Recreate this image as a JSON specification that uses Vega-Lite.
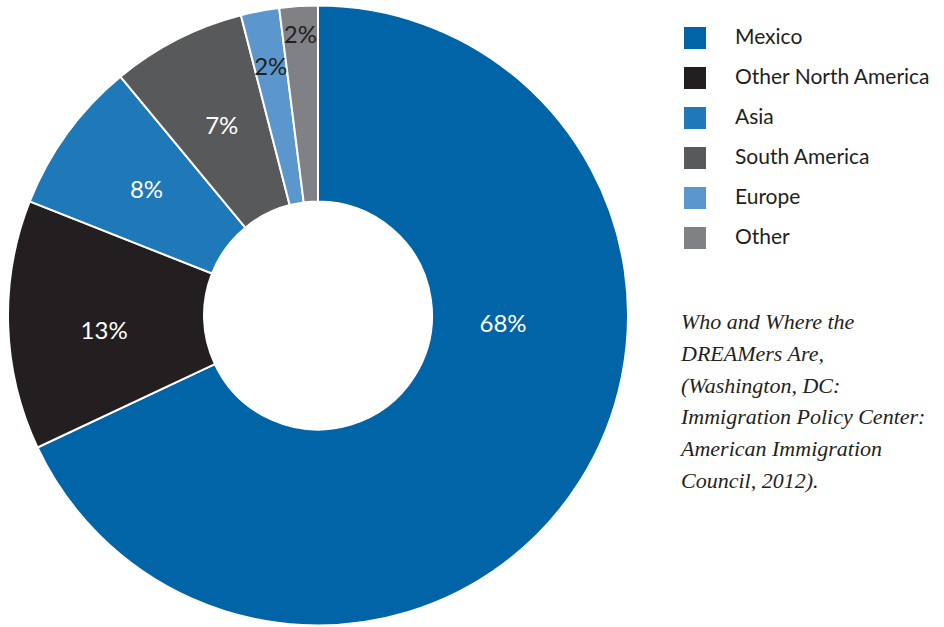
{
  "$schema": "https://vega.github.io/schema/vega-lite/v6.json",
  "width": 636,
  "height": 631,
  "autosize": {"type": "none"},
  "padding": {"left": 0, "top": 0, "right": 308, "bottom": -4},
  "background": "white",
  "config": {"view": {"stroke": null}},
  "title": {
    "text": ["Who and Where the", "DREAMers Are,", "(Washington, DC:", "Immigration Policy Center:", "American Immigration", "Council, 2012)."],
    "orient": "top",
    "anchor": "start",
    "frame": "group",
    "align": "left",
    "baseline": "top",
    "dx": 681,
    "dy": 493,
    "offset": 0,
    "font": "Liberation Serif",
    "fontStyle": "italic",
    "fontWeight": "normal",
    "fontSize": 22,
    "lineHeight": 31.8,
    "color": "#231f20"
  },
  "data": {
    "values": [
      {"region": "Mexico", "pct": 68, "label": "68%", "order": 1},
      {"region": "Other North America", "pct": 13, "label": "13%", "order": 2},
      {"region": "Asia", "pct": 8, "label": "8%", "order": 3},
      {"region": "South America", "pct": 7, "label": "7%", "order": 4},
      {"region": "Europe", "pct": 2, "label": "2%", "order": 5},
      {"region": "Other", "pct": 2, "label": "2%", "order": 6}
    ]
  },
  "encoding": {
    "theta": {"field": "pct", "type": "quantitative", "stack": true},
    "order": {"field": "order", "type": "quantitative"}
  },
  "layer": [
    {
      "mark": {"type": "arc", "outerRadius": 310, "innerRadius": 114, "stroke": "white", "strokeWidth": 2},
      "encoding": {
        "color": {
          "field": "region",
          "type": "nominal",
          "scale": {
            "domain": ["Mexico", "Other North America", "Asia", "South America", "Europe", "Other"],
            "range": ["#0064a7", "#231f20", "#1f78b8", "#58595b", "#5b97cc", "#808184"]
          },
          "legend": {
            "title": null,
            "orient": "none",
            "legendX": 684,
            "legendY": 27,
            "symbolType": "square",
            "symbolSize": 484,
            "symbolStrokeWidth": 0,
            "symbolOpacity": 1,
            "labelFont": "Lato",
            "labelFontSize": 21,
            "labelColor": "#231f20",
            "labelOffset": 29,
            "labelLimit": 300,
            "rowPadding": 18,
            "padding": 0
          }
        }
      }
    },
    {
      "mark": {"type": "text", "radius": 186, "dx": 28, "dy": -90, "font": "Lato", "fontSize": 24, "color": "white"},
      "encoding": {"text": {"condition": {"test": "datum.region === 'Mexico'", "field": "label"}, "value": ""}}
    },
    {
      "mark": {"type": "text", "radius": 214, "dy": 10, "font": "Lato", "fontSize": 24, "color": "white"},
      "encoding": {"text": {"condition": {"test": "datum.region === 'Other North America'", "field": "label"}, "value": ""}}
    },
    {
      "mark": {"type": "text", "radius": 212, "font": "Lato", "fontSize": 24, "color": "white"},
      "encoding": {"text": {"condition": {"test": "datum.order >= 3 && datum.order <= 4", "field": "label"}, "value": ""}}
    },
    {
      "mark": {"type": "text", "radius": 252, "font": "Lato", "fontSize": 24, "color": "#231f20"},
      "encoding": {"text": {"condition": {"test": "datum.region === 'Europe'", "field": "label"}, "value": ""}}
    },
    {
      "mark": {"type": "text", "radius": 280, "font": "Lato", "fontSize": 24, "color": "#231f20"},
      "encoding": {"text": {"condition": {"test": "datum.region === 'Other'", "field": "label"}, "value": ""}}
    }
  ]
}
